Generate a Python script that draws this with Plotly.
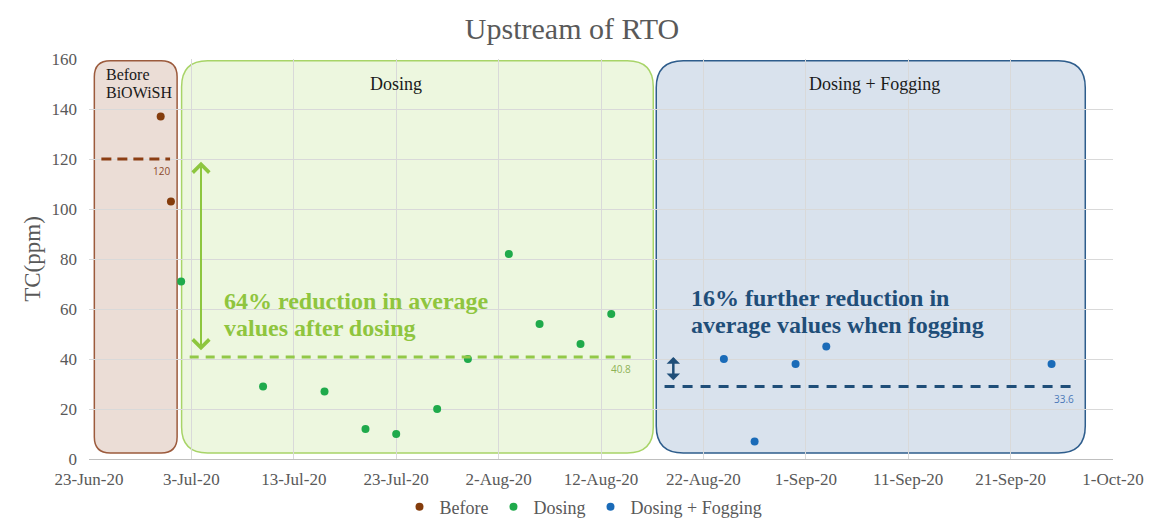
import plotly.graph_objects as go
import pandas as pd

# ---------------- data ----------------
before_dates = ["2020-06-30", "2020-07-01"]
before_vals = [137, 103]

dosing_dates = ["2020-07-02", "2020-07-10", "2020-07-16", "2020-07-20", "2020-07-23",
                "2020-07-27", "2020-07-30", "2020-08-03", "2020-08-06", "2020-08-10",
                "2020-08-13"]
dosing_vals = [71, 29, 27, 12, 10, 20, 40, 82, 54, 46, 58]

fog_dates = ["2020-08-24", "2020-08-27", "2020-08-31", "2020-09-03", "2020-09-25"]
fog_vals = [40, 7, 38, 45, 38]

# phase boxes (start, end) and averages
phase_names = ["Before", "Dosing", "Dosing + Fogging"]
phase_x0 = ["2020-06-23 12:30", "2020-07-02 01:00", "2020-08-17 09:30"]
phase_x1 = ["2020-07-01 14:30", "2020-08-17 02:30", "2020-09-28 07:00"]
box_y0, box_y1 = 2.4, 159.3

avg_vals = [120, 40.8, 29]
avg_labels = ["120", "40.8", "33.6"]
avg_x0 = ["2020-06-24 05:00", "2020-07-02 20:00", "2020-08-18 05:00"]
avg_x1 = ["2020-06-30 22:00", "2020-08-14 22:00", "2020-09-27 05:00"]

x_range = ["2020-06-23", "2020-10-01"]

# ---------------- styles ----------------
SERIF = "Liberation Serif, Times New Roman, serif"
GRAY = "#595959"
c_before, c_dosing, c_fog = "#843C0C", "#1FAA4B", "#1A6BB8"
box_fill = ["rgba(200,160,140,0.36)", "rgba(190,225,140,0.28)", "rgba(120,150,190,0.28)"]
box_line = ["#9C5B3D", "#A8D468", "#2E5D8C"]
box_r_px = [16, 26, 27]
avg_color = ["#8B3E14", "#92C848", "#1F4E79"]
avg_dash = ["10px,6px", "9px,7px", "10px,8px"]
avg_label_color = ["#8B4A2A", "#8DB255", "#4A78B8"]

PX_PER_DAY = 10.24
PX_PER_UNIT = 2.5

# the page body adds an 8px offset; figure is sized to fill the rest
FIG_W, FIG_H = 1151, 517


def ts(s):
    return pd.Timestamp(s)


def p(t):
    return t.strftime("%Y-%m-%d_%H:%M:%S")


def rounded_path(x0, x1, y0, y1, r):
    rx = pd.Timedelta(days=r / PX_PER_DAY)
    ry = r / PX_PER_UNIT
    a, b = ts(x0), ts(x1)
    return (f"M{p(a + rx)},{y1} L{p(b - rx)},{y1} Q{p(b)},{y1} {p(b)},{y1 - ry} "
            f"L{p(b)},{y0 + ry} Q{p(b)},{y0} {p(b - rx)},{y0} "
            f"L{p(a + rx)},{y0} Q{p(a)},{y0} {p(a)},{y0 + ry} "
            f"L{p(a)},{y1 - ry} Q{p(a)},{y1} {p(a + rx)},{y1} Z")


fig = go.Figure()

fig.add_trace(go.Scatter(x=before_dates, y=before_vals, mode="markers", name="Before",
                         marker=dict(color=c_before, size=8)))
fig.add_trace(go.Scatter(x=dosing_dates, y=dosing_vals, mode="markers", name="Dosing",
                         marker=dict(color=c_dosing, size=8)))
fig.add_trace(go.Scatter(x=fog_dates, y=fog_vals, mode="markers", name="Dosing + Fogging",
                         marker=dict(color=c_fog, size=8)))

shapes = []
for i in range(3):
    shapes.append(dict(type="path", xref="x", yref="y", layer="below",
                       path=rounded_path(phase_x0[i], phase_x1[i], box_y0, box_y1, box_r_px[i]),
                       fillcolor=box_fill[i], line=dict(color=box_line[i], width=1.5)))
for i in range(3):
    shapes.append(dict(type="line", xref="x", yref="y", layer="above",
                       x0=avg_x0[i], x1=avg_x1[i], y0=avg_vals[i], y1=avg_vals[i],
                       line=dict(color=avg_color[i], width=3, dash=avg_dash[i])))

annotations = []
for i in range(3):
    annotations.append(dict(x=avg_x1[i], y=avg_vals[i], xref="x", yref="y",
                            text=avg_labels[i], showarrow=False, xanchor="right",
                            yanchor="top", yshift=-3, xshift=2,
                            font=dict(family="Open Sans, sans-serif", size=10,
                                      color=avg_label_color[i])))

annotations += [
    dict(x=phase_x0[0], y=box_y1, xref="x", yref="y", text="Before", showarrow=False,
         xanchor="left", yanchor="middle", xshift=10, yshift=-14,
         font=dict(family=SERIF, size=16, color="#1a1a1a")),
    dict(x=phase_x0[0], y=box_y1, xref="x", yref="y", text="BiOWiSH", showarrow=False,
         xanchor="left", yanchor="middle", xshift=10, yshift=-32,
         font=dict(family=SERIF, size=16, color="#1a1a1a")),
    dict(x="2020-07-23", y=box_y1, xref="x", yref="y", text="Dosing", showarrow=False,
         xanchor="center", yanchor="middle", yshift=-23,
         font=dict(family=SERIF, size=18, color="#1a1a1a")),
    dict(x="2020-09-07 17:00", y=box_y1, xref="x", yref="y", text="Dosing + Fogging",
         showarrow=False, xanchor="center", yanchor="middle", yshift=-23,
         font=dict(family=SERIF, size=18, color="#1a1a1a")),
]

green_txt = ["64% reduction in average", "values after dosing"]
blue_txt = ["16% further reduction in", "average values when fogging"]
for t, yv in zip(green_txt, [63.4, 52.6]):
    annotations.append(dict(x="2020-07-06", y=yv, xref="x", yref="y", text=f"<b>{t}</b>",
                            showarrow=False, xanchor="left", yanchor="middle",
                            font=dict(family=SERIF, size=24, color="#8FC53E")))
for t, yv in zip(blue_txt, [64.4, 53.6]):
    annotations.append(dict(x="2020-08-20 14:00", y=yv, xref="x", yref="y", text=f"<b>{t}</b>",
                            showarrow=False, xanchor="left", yanchor="middle",
                            font=dict(family=SERIF, size=24, color="#1F4E79")))

annotations.append(dict(x="2020-07-03 22:30", y=118.9, ax="2020-07-03 22:30", ay=42.9,
                        xref="x", yref="y", axref="x", ayref="y", text="", showarrow=True,
                        arrowhead=4, startarrowhead=4, arrowside="end+start",
                        arrowsize=1.6, startarrowsize=1.6, arrowwidth=2, arrowcolor="#8DC63F"))
annotations.append(dict(x="2020-08-19 01:30", y=40.8, ax="2020-08-19 01:30", ay=30.9,
                        xref="x", yref="y", axref="x", ayref="y", text="", showarrow=True,
                        arrowhead=1, startarrowhead=1, arrowside="end+start",
                        arrowsize=0.9, startarrowsize=0.9, arrowwidth=2.5, arrowcolor="#1F4E79"))

fig.update_layout(
    width=FIG_W, height=FIG_H,
    margin=dict(l=81, r=46, t=51, b=66, autoexpand=False),
    paper_bgcolor="white", plot_bgcolor="white",
    font=dict(family=SERIF, color=GRAY),
    title=dict(text="Upstream of RTO", x=564 / FIG_W, xref="container", xanchor="center",
               y=1 - 20 / FIG_H, yref="container", yanchor="middle",
               font=dict(family=SERIF, size=30, color=GRAY)),
    xaxis=dict(type="date", range=x_range, tick0="2020-06-23", dtick=10 * 86400000,
               tickformat="%-d-%b-%y", showgrid=True, gridcolor="#D9D9D9", gridwidth=1,
               showline=True, linecolor="#BFBFBF", linewidth=1, zeroline=False,
               tickfont=dict(family=SERIF, size=17, color=GRAY), ticks="",
               ticklabelstandoff=5, automargin=False),
    yaxis=dict(range=[0, 160], dtick=20, showgrid=True, gridcolor="#D9D9D9", gridwidth=1,
               zeroline=False, showline=False, automargin=False,
               tickfont=dict(family=SERIF, size=17, color=GRAY), ticks="",
               ticklabelstandoff=11,
               title=dict(text="TC(ppm)", standoff=4,
                          font=dict(family=SERIF, size=23, color=GRAY))),
    legend=dict(orientation="h", x=0.5, xref="container", xanchor="center",
                y=1 - 499 / FIG_H, yref="container", yanchor="middle",
                font=dict(family=SERIF, size=18, color=GRAY), itemwidth=30,
                tracegroupgap=0),
    shapes=shapes,
    annotations=annotations,
)

fig.write_html("out.html")
